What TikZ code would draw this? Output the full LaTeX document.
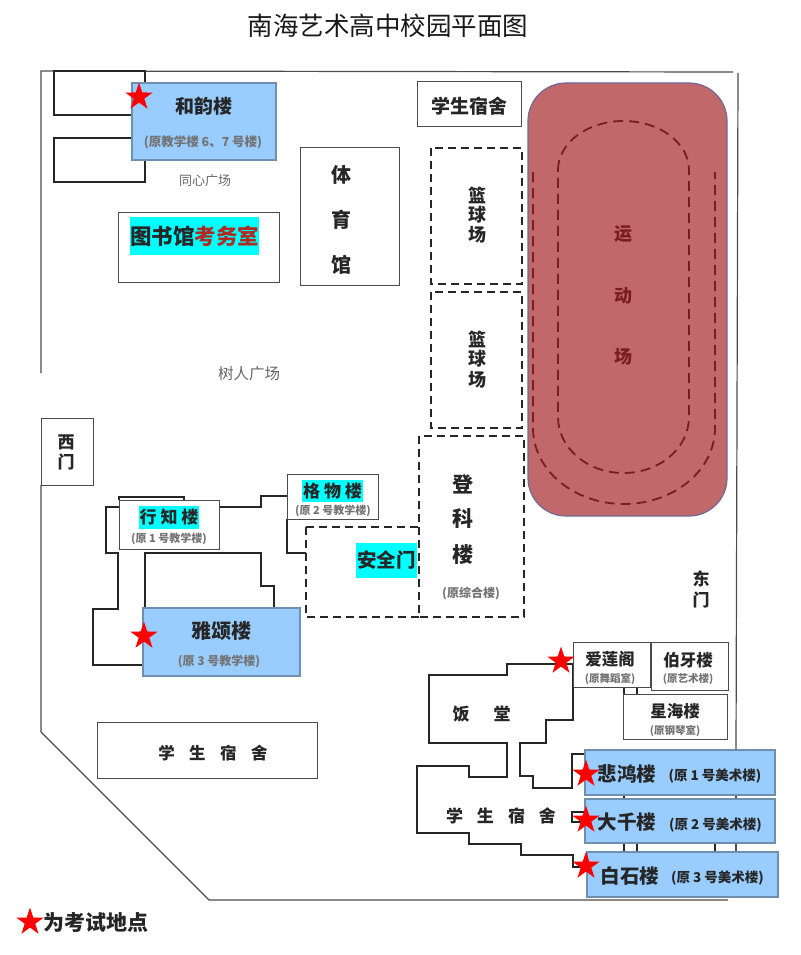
\documentclass[tikz,border=0pt]{standalone}
\usepackage{fontspec}
\setmainfont{Noto Sans CJK SC}
\usetikzlibrary{shapes.geometric}

\definecolor{buildblue}{HTML}{99CCFF}
\definecolor{buildedge}{HTML}{6F8FAF}
\definecolor{fieldred}{HTML}{C1686A}
\definecolor{fieldedge}{HTML}{6F6A96}
\definecolor{trackred}{HTML}{7A1C22}
\definecolor{examred}{HTML}{B02A22}
\definecolor{hilitecyan}{HTML}{00FFFF}

\newcommand{\fsize}[1]{\fontsize{#1}{#1}\selectfont}

\tikzset{
	wall/.style = {line width = 1.2 pt, draw = black!70},
	outline/.style = {line width = 1.3 pt, draw = black!85, line join = miter},
	whitebox/.style = {draw = black!70, line width = 1 pt, fill = white, inner sep = 0},
	bluebox/.style = {draw = buildedge, line width = 1.2 pt, fill = buildblue, inner sep = 0},
	dashbox/.style = {draw = black!85, line width = 2 pt, dash pattern = on 8 pt off 5 pt},
	track/.style = {draw = trackred, line width = 1.8 pt, dash pattern = on 10 pt off 6 pt},
	hilite/.style = {fill = hilitecyan, inner sep = 0},
	examstar/.style = {star, star points = 5, star point ratio = 2.6, fill = red, minimum size = 29, inner sep = 0},
	bigname/.style = {font = \fsize{#1}\bfseries, text = black!85, inner sep = 0},
	subname/.style = {font = \fsize{#1}\bfseries, text = black!55, inner sep = 0},
	plainname/.style = {font = \fsize{#1}, text = black!60, inner sep = 0}
}

\begin{document}
\begin{tikzpicture}[x = 1 pt, y = -1 pt]

	\useasboundingbox (0, 0) rectangle (800, 955);

	% Title

	\node (title) [font = \fsize{25.5}, text = black!90, inner sep = 0] at (388, 26) {南海艺术高中校园平面图};

	% Campus boundary

	\draw [wall] (41, 373) -- (41, 71) -- (733, 72);
	\draw [wall] (738, 73) -- (736, 750);
	\draw [wall] (736, 795) -- (736, 799);
	\draw [wall] (736, 843) -- (736, 852);
	\draw [wall] (41, 485) -- (41, 732) -- (209, 900) -- (728, 900);

	% Top left wings

	\draw [outline] (132, 115) -- (54, 115) -- (54, 71) -- (145, 71) -- (145, 83);
	\draw [outline] (132, 138) -- (54, 138) -- (54, 182) -- (145, 182) -- (145, 160);

	% Teaching building corridors

	\draw [outline] (119, 500) -- (119, 497) -- (184, 497) -- (184, 500);
	\draw [outline] (119, 507) -- (106, 507) -- (106, 553) -- (118, 553) -- (118, 609) -- (93, 609) -- (93, 665) -- (143, 665);
	\draw [outline] (219, 507) -- (261, 507) -- (261, 496) -- (287, 496);
	\draw [outline] (287, 519) -- (287, 553) -- (306, 553);
	\draw [outline] (145, 608) -- (145, 553) -- (261, 553) -- (261, 586) -- (274, 586) -- (274, 608);
	\draw [outline] (300, 608) -- (300, 665);

	% Canteen and dormitory outlines

	\draw [outline] (573, 664) -- (507, 664) -- (507, 675) -- (429, 675) -- (429, 743) -- (507, 743) -- (507, 777) -- (469, 777) -- (469, 766) -- (417, 766) -- (417, 833) -- (469, 833) -- (469, 844) -- (521, 844) -- (521, 855) -- (573, 855) -- (573, 867) -- (587, 867);
	\draw [outline] (573, 664) -- (573, 720) -- (546, 720) -- (546, 743) -- (520, 743) -- (520, 776) -- (533, 776) -- (533, 788) -- (572, 788) -- (572, 754) -- (585, 754);
	\draw [outline] (585, 812) -- (572, 812) -- (572, 822) -- (585, 822);

	% Links between the east buildings

	\draw [outline] (624, 686) -- (624, 694);
	\draw [outline] (637, 686) -- (637, 694);
	\draw [outline] (624, 795) -- (624, 799);
	\draw [outline] (624, 843) -- (624, 852);
	\draw [outline] (637, 843) -- (637, 852);
	\draw [outline] (715, 843) -- (715, 852);

	% Sports field

	\draw [fieldedge, fill = fieldred, line width = 1.2 pt, rounded corners = 38 pt] (528, 83) rectangle (727, 516);
	\draw [track] (558, 170) arc [start angle = 180, end angle = 0, x radius = 65.5 pt, y radius = 49 pt] -- (689, 417) arc [start angle = 0, end angle = -180, x radius = 65.5 pt, y radius = 56 pt] -- cycle;
	\draw [track] (533, 172) -- (533, 428) arc [start angle = 180, end angle = 360, x radius = 91 pt, y radius = 76 pt] -- (715, 172);
	\foreach \ch/\y in {运/234, 动/296, 场/357}
		\node (field \y) [bigname = 18, text = trackred] at (623, \y) {\ch};

	% Courts and dashed areas

	\draw [dashbox] (431, 148) rectangle (522, 284);
	\draw [dashbox] (431, 292) rectangle (522, 428);
	\draw [dashbox] (419, 436) rectangle (524, 617);
	\draw [dashbox] (306, 527) -- (419, 527);
	\draw [dashbox] (306, 527) -- (306, 617) -- (419, 617);
	\foreach \ch/\y in {篮/195, 球/215, 场/235, 篮/339, 球/359, 场/380}
		\node (court \y) [bigname = 18] at (477, \y) {\ch};
	\foreach \ch/\y in {登/484, 科/519, 楼/555}
		\node (dengke \y) [bigname = 21] at (463, \y) {\ch};
	\node (dengke sub) [subname = 12] at (471, 594) {(原综合楼)};
	\node (safety) [hilite, minimum width = 61, minimum height = 35, font = \fsize{19.5}\bfseries, text = black!85] at (386.5, 560.5) {安全门};

	% North buildings

	\node (heyun) [bluebox, minimum width = 144, minimum height = 77] at (204, 121.5) {};
	\node (heyun name) [bigname = 19] at (204, 106) {和韵楼};
	\node (heyun sub) [subname = 12.5] at (203, 142) {(原教学楼 6、7 号楼)};
	\node (tongxin) [plainname = 13] at (205, 181) {同心广场};
	\node (library) [whitebox, minimum width = 161, minimum height = 70] at (198.5, 247) {};
	\node (library name) [hilite, minimum width = 129, minimum height = 38, font = \fsize{21.5}\bfseries, text = black!85] at (194.5, 236) {图书馆\textcolor{examred}{考务室}};
	\node (gym) [whitebox, minimum width = 99, minimum height = 138] at (349.5, 216) {};
	\foreach \ch/\y in {体/175, 育/220, 馆/265}
		\node (gym \y) [bigname = 20] at (341, \y) {\ch};
	\node (dorm north) [whitebox, minimum width = 104, minimum height = 45] at (469, 104.5) {};
	\node (dorm north name) [bigname = 19] at (469, 106) {学生宿舍};
	\node (shuren) [plainname = 15.5] at (249, 374) {树人广场};

	% West gate and teaching buildings

	\node (west gate) [whitebox, minimum width = 52, minimum height = 67] at (67, 451.5) {};
	\node (west top) [bigname = 17] at (66, 442) {西};
	\node (west bottom) [bigname = 17] at (66, 462) {门};
	\node (xingzhi) [whitebox, minimum width = 100, minimum height = 49] at (169, 524.5) {};
	\node (xingzhi name) [hilite, minimum width = 60, minimum height = 23, font = \fsize{17}\bfseries, text = black!85] at (169, 517.5) {行 知 楼};
	\node (xingzhi sub) [subname = 11] at (169, 539) {(原 1 号教学楼)};
	\node (gewu) [whitebox, minimum width = 91, minimum height = 45] at (332.5, 496.5) {};
	\node (gewu name) [hilite, minimum width = 61, minimum height = 22, font = \fsize{17}\bfseries, text = black!85] at (332.5, 491) {格 物 楼};
	\node (gewu sub) [subname = 11] at (333, 511) {(原 2 号教学楼)};
	\node (yasong) [bluebox, minimum width = 157, minimum height = 68] at (221.5, 642) {};
	\node (yasong name) [bigname = 20] at (221, 631) {雅颂楼};
	\node (yasong sub) [subname = 12] at (219, 662) {(原 3 号教学楼)};
	\node (dorm west) [whitebox, minimum width = 220, minimum height = 56] at (207, 750) {};
	\node (dorm west name) [bigname = 16.5] at (213, 753) {学\hspace{14.5 pt}生\hspace{14.5 pt}宿\hspace{14.5 pt}舍};

	% East gate and small buildings

	\node (east top) [bigname = 17] at (701, 579) {东};
	\node (east bottom) [bigname = 17] at (701, 600) {门};
	\node (ailian) [whitebox, minimum width = 77, minimum height = 45] at (611.5, 664.5) {};
	\node (ailian name) [bigname = 16.5] at (610, 659) {爱莲阁};
	\node (ailian sub) [subname = 10.5] at (610, 679) {(原舞蹈室)};
	\node (boya) [whitebox, minimum width = 77, minimum height = 48] at (689.5, 666) {};
	\node (boya name) [bigname = 16.5] at (688, 660) {伯牙楼};
	\node (boya sub) [subname = 10.5] at (688, 679) {(原艺术楼)};
	\node (xinghai) [whitebox, minimum width = 104, minimum height = 45] at (675, 716.5) {};
	\node (xinghai name) [bigname = 16.5] at (675, 711) {星海楼};
	\node (xinghai sub) [subname = 10.5] at (675, 731) {(原钢琴室)};
	\node (canteen left) [bigname = 17] at (461, 714) {饭};
	\node (canteen right) [bigname = 17] at (502, 714) {堂};
	\node (dorm east) [bigname = 17] at (501, 816) {学\hspace{14 pt}生\hspace{14 pt}宿\hspace{14 pt}舍};

	% Art buildings

	\node (beihong) [bluebox, minimum width = 190, minimum height = 45] at (680, 772.5) {};
	\node (beihong name) [bigname = 19.5] at (627, 774) {悲鸿楼};
	\node (beihong sub) [bigname = 13.5] at (715, 776) {(原 1 号美术楼)};
	\node (daqian) [bluebox, minimum width = 190, minimum height = 44] at (680, 821) {};
	\node (daqian name) [bigname = 19.5] at (627, 822) {大千楼};
	\node (daqian sub) [bigname = 13.5] at (715.5, 825) {(原 2 号美术楼)};
	\node (baishi) [bluebox, minimum width = 191, minimum height = 45] at (682.5, 874.5) {};
	\node (baishi name) [bigname = 19.5] at (630, 876) {白石楼};
	\node (baishi sub) [bigname = 13.5] at (717.5, 878) {(原 3 号美术楼)};

	% Exam stars

	\node (star heyun) [examstar] at (139, 97) {};
	\node (star yasong) [examstar] at (144, 636) {};
	\node (star ailian) [examstar] at (561, 661) {};
	\node (star beihong) [examstar] at (586, 774) {};
	\node (star daqian) [examstar] at (586, 820) {};
	\node (star baishi) [examstar] at (586, 866) {};

	% Legend

	\node (star legend) [examstar] at (30, 922) {};
	\node (legend) [bigname = 21] at (95.5, 923) {为考试地点};

\end{tikzpicture}
\end{document}
